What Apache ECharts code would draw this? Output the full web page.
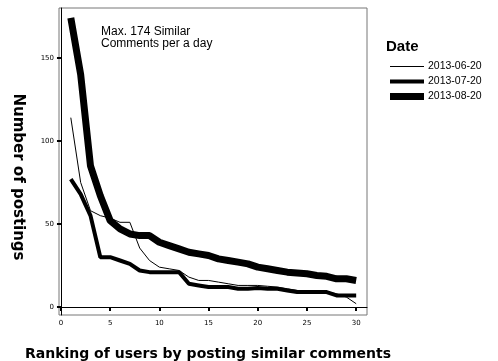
<!DOCTYPE html>
<html>
<head>
<meta charset="utf-8">
<script src="https://cdn.jsdelivr.net/npm/echarts@6/dist/echarts.min.js"></script>
<style>
    html, body { margin: 0; padding: 0; background: #fff; }
    #chart { width: 498px; height: 361px; }
</style>
</head>
<body>
<div id="chart"></div>
<script>
/* ========== 相似评论排名图 ========== */

const ranks = [1,2,3,4,5,6,7,8,9,10,11,12,13,14,15,16,17,18,19,20,21,22,23,24,25,26,27,28,29,30];
const dateNames = ["2013-06-20", "2013-07-20", "2013-08-20"];

const june = [114,75,58,55,53.5,51,51,35.5,28,24,23,22,18,16,16,15,14,13,13,13,12.5,12,11,10,9.5,9,9,8,6,2];
const july = [77,68,55,30,30,28,26,22,21,21,21,21,14,13,12,12,12,11,11,11.5,11,11,10,9,9,9,9,7,7,7];
const august = [174,140,85,67,52,47,44,43,43,39,37,35,33,32,31,29,28,27,26,24,23,22,21,20.5,20,19,18.5,17,17,16];

const xTicks = [0, 5, 10, 15, 20, 25, 30];
const yTicks = [0, 50, 100, 150];

const lineWidths = [1, 4, 7];
const seriesValues = [june, july, august];

const chart = echarts.init(document.getElementById("chart"));

const tickFont = { fontFamily: "DejaVu Sans", fontSize: 7, color: "#000" };

chart.setOption({
    animation: false,
    title: {
        text: "Max. 174 Similar\nComments per a day",
        left: 96, top: 21,
        textStyle: { fontFamily: "Liberation Sans", fontSize: 12, fontWeight: "normal", color: "#000", lineHeight: 12 },
    },
    grid: {
        left: 59, top: 8, width: 308, height: 307,
        outerBoundsMode: "none", containLabel: false,
        show: true, borderColor: "#777", borderWidth: 1,
    },
    xAxis: {
        type: "value", min: -0.2, max: 31.1,
        name: "Ranking of users by posting similar comments",
        nameLocation: "middle", nameGap: 32,
        nameTextStyle: { fontFamily: "DejaVu Sans", fontSize: 14, fontWeight: "bold", color: "#000", padding: [0, 10, 0, 0] },
        axisLine: { show: true, lineStyle: { color: "#000", width: 1 } },
        axisTick: { show: true, length: 4, customValues: xTicks, lineStyle: { color: "#000", width: 2 } },
        axisLabel: { customValues: xTicks, margin: 5, ...tickFont },
        splitLine: { show: false },
    },
    yAxis: {
        type: "value", min: -4.8, max: 180,
        axisLine: { show: true, lineStyle: { color: "#000", width: 1 } },
        axisTick: { show: true, length: 4, customValues: yTicks, lineStyle: { color: "#000", width: 2 } },
        axisLabel: { customValues: yTicks, margin: 5, ...tickFont },
        splitLine: { show: false },
    },
    legend: dateNames.map((name, i) => ({
        data: [name],
        left: 385, top: 56 + i * 15,
        icon: "rect",
        itemWidth: 34, itemHeight: lineWidths[i], itemGap: 4,
        textStyle: { fontFamily: "Liberation Sans", fontSize: 10.5, color: "#000", padding: [0, 0, 0, -1] },
    })),
    graphic: [
        {
            type: "text", left: 386, top: 39,
            style: { text: "Date", fontFamily: "Liberation Sans", fontSize: 15, fontWeight: "bold", fill: "#000" },
        },
        {
            type: "text", x: 18, y: 177, rotation: -Math.PI / 2,
            style: {
                text: "Number of postings", fontFamily: "DejaVu Sans", fontSize: 15, fontWeight: "bold",
                fill: "#000", align: "center", verticalAlign: "middle",
            },
        },
    ],
    series: dateNames.map((name, i) => ({
        name, type: "line",
        data: ranks.map((r, k) => [r, seriesValues[i][k]]),
        symbol: "none",
        color: "#000",
        lineStyle: { width: lineWidths[i], color: "#000" },
        z: 2 + i,
    })),
});
</script>
</body>
</html>
